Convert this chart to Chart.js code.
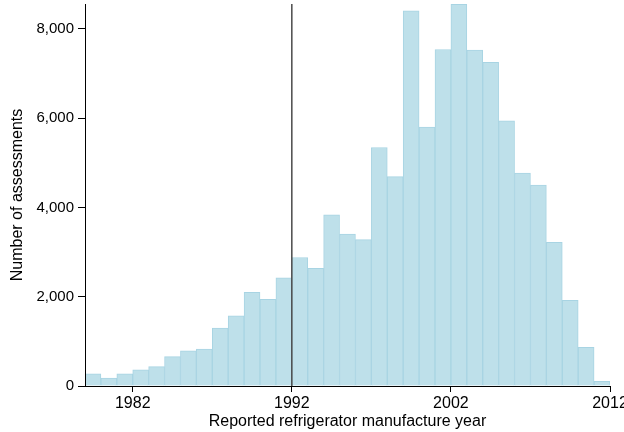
<!DOCTYPE html>
<html>
<head>
<meta charset="utf-8">
<script src="https://cdn.jsdelivr.net/npm/chart.js@4/dist/chart.umd.min.js"></script>
<style>
  html, body { margin: 0; padding: 0; background: #fff; overflow: hidden; }
  #wrap { width: 624px; height: 432px; }
</style>
</head>
<body>
<div id="wrap"><canvas id="chart" width="624" height="432"></canvas></div>
<script>
// bin start years (each bin is one year wide)
const binYears = [
  1979, 1980, 1981, 1982, 1983, 1984, 1985, 1986, 1987, 1988, 1989,
  1990, 1991, 1992, 1993, 1994, 1995, 1996, 1997, 1998, 1999, 2000,
  2001, 2002, 2003, 2004, 2005, 2006, 2007, 2008, 2009, 2010, 2011,
]
const assessments = [
  270, 175, 270, 360, 435, 660, 790, 830, 1300, 1570, 2100,
  1940, 2425, 2880, 2635, 3835, 3405, 3280, 5345, 4690, 8405, 5800,
  7540, 8555, 7525, 7255, 5940, 4770, 4500, 3220, 1920, 865, 105,
]
const xTicks = [1982, 1992, 2002, 2012]
const yTicks = [0, 2000, 4000, 6000, 8000]
const cutoffYear = 1992

const fontFamily = "'Liberation Sans', Arial, Helvetica, sans-serif"

// vertical reference line at the cutoff year
const cutoffLine = {
  id: 'cutoffLine',
  afterDatasetsDraw(chart) {
    const { ctx, chartArea, scales } = chart
    const x = scales.x.getPixelForValue(cutoffYear)
    ctx.save()
    ctx.strokeStyle = '#4a4a4a'
    ctx.lineWidth = 1.5
    ctx.beginPath()
    ctx.moveTo(x, chartArea.top)
    ctx.lineTo(x, chartArea.bottom)
    ctx.stroke()
    ctx.restore()
  },
}

const myChart = new Chart(document.getElementById('chart'), {
  type: 'bar',
  data: {
    datasets: [
      {
        data: binYears.map((yr, i) => ({ x: yr + 0.5, y: assessments[i] })),
        backgroundColor: 'rgb(190, 224, 234)',
        borderColor: 'rgb(168, 212, 227)',
        borderWidth: 1,
        barPercentage: 1,
        categoryPercentage: 1,
      },
    ],
  },
  options: {
    responsive: false,
    animation: false,
    layout: { padding: { top: 4, right: 14, left: 0, bottom: 0 } },
    scales: {
      x: {
        type: 'linear',
        offset: false,
        min: 1979,
        max: 2012,
        afterBuildTicks: (scale) => {
          scale.ticks = xTicks.map((v) => ({ value: v }))
        },
        afterFit: (scale) => {
          scale.height = 46
          scale.paddingLeft = 0
          scale.paddingRight = 0
        },
        ticks: {
          color: '#000',
          padding: 2,
          font: { family: fontFamily, size: 16 },
          callback: (v) => String(v),
        },
        grid: {
          offset: false,
          drawOnChartArea: false,
          drawTicks: true,
          tickLength: 6,
          color: '#000',
          z: 1,
        },
        border: { display: true, color: '#000', width: 1, z: 1 },
        title: {
          display: true,
          text: 'Reported refrigerator manufacture year',
          color: '#000',
          padding: { top: 0, bottom: 1 },
          font: { family: fontFamily, size: 16 },
        },
      },
      y: {
        min: 0,
        max: 8560,
        afterBuildTicks: (scale) => {
          scale.ticks = yTicks.map((v) => ({ value: v }))
        },
        afterFit: (scale) => {
          scale.width = 85
          scale.paddingTop = 0
          scale.paddingBottom = 0
        },
        ticks: {
          color: '#000',
          padding: 4,
          font: { family: fontFamily, size: 15 },
          callback: (v) => v.toLocaleString('en-US'),
        },
        grid: {
          drawOnChartArea: false,
          drawTicks: true,
          tickLength: 7,
          color: '#000',
          z: 1,
        },
        border: { display: true, color: '#000', width: 1, z: 1 },
        title: {
          display: true,
          text: 'Number of assessments',
          color: '#000',
          padding: { top: 8, bottom: 0 },
          font: { family: fontFamily, size: 16 },
        },
      },
    },
    plugins: {
      legend: { display: false },
      tooltip: { enabled: false },
    },
  },
  plugins: [cutoffLine],
})
</script>
</body>
</html>
